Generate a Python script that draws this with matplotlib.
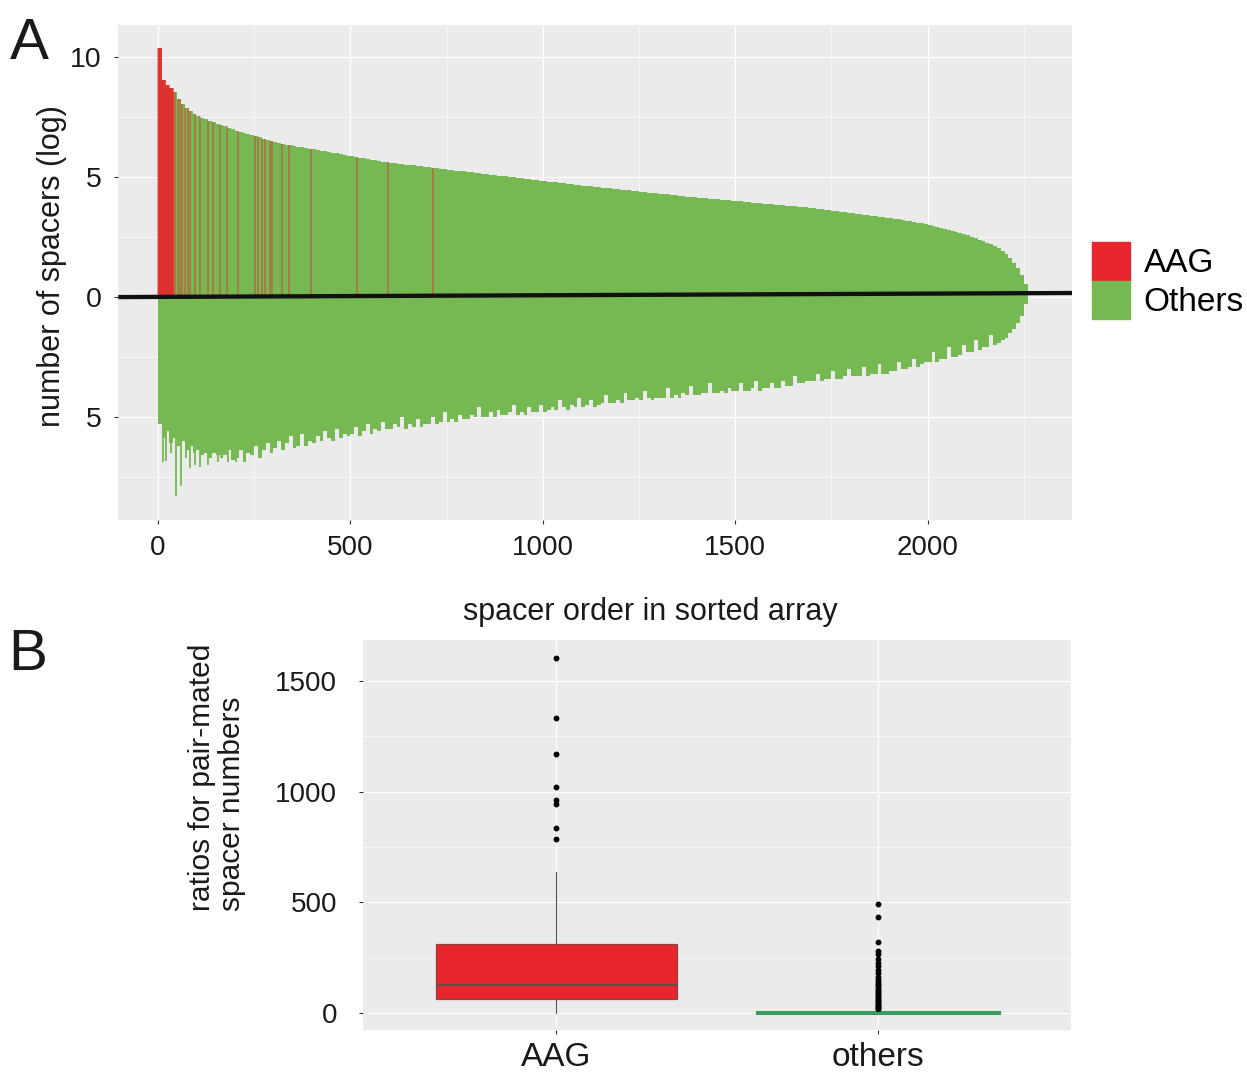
import matplotlib.pyplot as plt
from matplotlib.patches import Patch

plt.rcParams["font.family"] = ["Liberation Sans", "DejaVu Sans"]

# ---- panel A: log spacer numbers by rank, in bins of 10 ranks ----
BIN = 10
top_log = [
    10.4, 9.05, 8.85, 8.72, 8.55, 8.25, 8.05, 7.9, 7.75, 7.63,
    7.55, 7.48, 7.42, 7.36, 7.3, 7.24, 7.18, 7.12, 7.06, 7.0,
    6.93, 6.9, 6.86, 6.82, 6.77, 6.72, 6.67, 6.6, 6.55, 6.5,
    6.45, 6.42, 6.39, 6.36, 6.33, 6.3, 6.27, 6.24, 6.21, 6.19,
    6.17, 6.14, 6.11, 6.08, 6.05, 6.02, 5.99, 5.96, 5.93, 5.9,
    5.88, 5.85, 5.82, 5.79, 5.76, 5.73, 5.7, 5.68, 5.65, 5.63,
    5.61, 5.59, 5.57, 5.55, 5.53, 5.51, 5.49, 5.47, 5.45, 5.43,
    5.42, 5.4, 5.38, 5.36, 5.34, 5.32, 5.3, 5.28, 5.26, 5.24,
    5.22, 5.2, 5.18, 5.16, 5.14, 5.12, 5.1, 5.08, 5.06, 5.05,
    5.04, 5.02, 5.0, 4.98, 4.96, 4.94, 4.92, 4.9, 4.88, 4.86,
    4.84, 4.82, 4.8, 4.79, 4.77, 4.75, 4.73, 4.71, 4.69, 4.67,
    4.65, 4.64, 4.62, 4.6, 4.58, 4.57, 4.55, 4.53, 4.52, 4.5,
    4.48, 4.47, 4.45, 4.43, 4.42, 4.4, 4.38, 4.36, 4.35, 4.33,
    4.31, 4.3, 4.28, 4.26, 4.25, 4.23, 4.21, 4.19, 4.18, 4.16,
    4.15, 4.13, 4.12, 4.1, 4.09, 4.08, 4.06, 4.05, 4.03, 4.02,
    4.0, 3.99, 3.97, 3.96, 3.94, 3.93, 3.92, 3.9, 3.89, 3.87,
    3.86, 3.85, 3.83, 3.82, 3.8, 3.79, 3.77, 3.76, 3.74, 3.72,
    3.7, 3.68, 3.66, 3.64, 3.62, 3.6, 3.58, 3.56, 3.54, 3.52,
    3.5, 3.48, 3.46, 3.44, 3.42, 3.4, 3.38, 3.35, 3.33, 3.31,
    3.29, 3.27, 3.24, 3.22, 3.19, 3.16, 3.13, 3.1, 3.07, 3.03,
    3.0, 2.96, 2.92, 2.88, 2.84, 2.79, 2.75, 2.71, 2.67, 2.62,
    2.57, 2.52, 2.46, 2.4, 2.34, 2.27, 2.2, 2.12, 2.03, 1.93,
    1.8, 1.63, 1.43, 1.2, 0.92, 0.55,
]
# pair-mated spacers, plotted downwards
bottom_log = [
    5.3, 5.9, 5.6, 6.1, 5.9, 6.2, 6.0, 6.4, 6.2, 6.5,
    6.4, 6.6, 6.5, 6.7, 6.5, 6.6, 6.7, 6.6, 6.4, 6.8,
    6.7, 6.4, 6.9, 6.5, 6.6, 6.2, 6.7, 6.4, 6.1, 6.5,
    6.3, 6.0, 6.4, 6.1, 5.8, 6.3, 6.2, 5.7, 6.2, 6.0,
    6.1, 5.8, 6.0, 5.6, 5.9, 6.0, 5.5, 5.9, 5.7, 5.8,
    5.7, 5.4, 5.8, 5.6, 5.3, 5.7, 5.5, 5.6, 5.2, 5.5,
    5.5, 5.3, 5.4, 5.0, 5.5, 5.3, 5.4, 5.1, 5.4, 5.3,
    5.3, 5.0, 5.3, 5.2, 4.8, 5.2, 5.1, 5.2, 4.9, 5.1,
    5.1, 4.9, 5.0, 4.6, 5.0, 5.0, 4.8, 5.0, 4.7, 4.9,
    4.9, 4.8, 4.5, 4.9, 4.8, 4.9, 4.6, 4.8, 4.8, 4.5,
    4.8, 4.7, 4.6, 4.7, 4.3, 4.6, 4.7, 4.5, 4.6, 4.2,
    4.6, 4.5, 4.3, 4.6, 4.5, 4.4, 4.1, 4.4, 4.4, 4.3,
    4.4, 4.0, 4.3, 4.3, 4.2, 4.3, 3.9, 4.2, 4.3, 4.2,
    4.2, 4.2, 3.8, 4.2, 4.1, 4.2, 4.0, 4.1, 3.7, 4.1,
    4.1, 4.0, 4.0, 3.6, 4.0, 4.0, 3.9, 4.0, 3.8, 3.9,
    3.9, 3.6, 3.9, 3.9, 3.8, 3.5, 3.9, 3.8, 3.8, 3.6,
    3.8, 3.8, 3.5, 3.7, 3.7, 3.3, 3.6, 3.6, 3.5, 3.5,
    3.5, 3.2, 3.5, 3.4, 3.4, 3.1, 3.4, 3.4, 3.3, 3.0,
    3.3, 3.3, 3.3, 2.9, 3.3, 3.2, 3.2, 2.8, 3.2, 3.2,
    3.1, 3.1, 2.7, 3.0, 3.0, 2.9, 2.6, 2.9, 2.8, 2.7,
    2.7, 2.3, 2.7, 2.6, 2.6, 2.1, 2.5, 2.5, 2.4, 2.0,
    2.3, 2.3, 1.8, 2.2, 2.1, 2.1, 1.6, 2.0, 1.9, 1.8,
    1.7, 1.5, 1.35, 1.1, 0.8, 0.3,
]
# single long pair-mated bars near the head of the ranking
spike_ranks = [12, 20, 33, 48, 59, 72, 84, 95, 108, 130, 156, 182, 203]
spike_log = [6.9, 6.85, 6.5, 8.3, 7.9, 6.7, 7.15, 7.0, 7.1, 7.0, 6.9, 6.9, 6.9]
# ranks of AAG spacers
aag_ranks = list(range(1, 41)) + [
    45, 52, 57, 63, 70, 77, 83, 96, 109, 130, 143, 161, 179, 208,
    252, 260, 270, 278, 291, 296, 322, 340, 398, 517, 597, 714,
]
zero_line_x = [-103, 2375]
zero_line_y = [0.0, 0.17]

# ---- panel B: boxplot of pair-mated ratios ----
groups = ["AAG", "others"]
aag_box = dict(q1=64, med=127, q3=311, whislo=0, whishi=638)
aag_outliers = [786, 837, 942, 962, 1019, 1169, 1331, 1603]
others_box = dict(q1=1, med=3, q3=7, whislo=0, whishi=15)
others_outliers = [491, 433, 323, 282, 267, 243, 228, 213, 195, 180, 165,
                   150, 142, 134, 126, 118, 110, 103, 96, 89, 82, 75, 68,
                   61, 55, 49, 43, 38, 33, 28, 24, 20]

GREEN = "#76b852"
RED = "#e8262e"
PANEL = "#ebebeb"
TXT = "#1a1a1a"
W, H = 1247, 1077


def style_gg(ax):
    ax.set_facecolor(PANEL)
    for s in ax.spines.values():
        s.set_visible(False)
    ax.grid(which="major", color="white", lw=0.85)
    ax.grid(which="minor", color="white", lw=0.4)
    ax.set_axisbelow(True)
    ax.tick_params(which="major", color="#333333", width=0.8, length=3,
                   labelcolor=TXT)
    ax.tick_params(which="minor", length=0)


fig = plt.figure(figsize=(W / 100, H / 100), dpi=100)

ax = fig.add_axes([118.3 / W, 1 - 520 / H, (1072 - 118.3) / W, (520 - 25) / H])
style_gg(ax)
left = [i * BIN for i in range(len(top_log))]
ax.bar(left, top_log, width=BIN, align="edge", color=GREEN, lw=0)
ax.bar(left, [-v for v in bottom_log], width=BIN, align="edge", color=GREEN, lw=0)
ax.vlines(spike_ranks, 0, [-v for v in spike_log], colors=GREEN, lw=1.3)
ax.vlines(aag_ranks, 0, [top_log[r // BIN] for r in aag_ranks],
          colors=RED, lw=1.1, alpha=0.5)
ax.plot(zero_line_x, zero_line_y, color="#111111", lw=3.1, solid_capstyle="butt")
ax.set_xlim(-103, 2375)
ax.set_ylim(-9.3, 11.35)
ax.set_xticks([0, 500, 1000, 1500, 2000])
ax.set_xticks([250, 750, 1250, 1750, 2250], minor=True)
ax.set_yticks([-5, 0, 5, 10])
ax.set_yticklabels(["5", "0", "5", "10"])
ax.set_yticks([-7.5, -2.5, 2.5, 7.5], minor=True)
ax.tick_params(axis="x", labelsize=20, pad=8)
ax.tick_params(axis="y", labelsize=20.5, pad=9)

ax.legend(handles=[Patch(color=RED, label="AAG"), Patch(color=GREEN, label="Others")],
          loc="upper left", bbox_to_anchor=(1092 / W, 1 - 242 / H),
          bbox_transform=fig.transFigure, frameon=False, fontsize=24,
          handlelength=1.15, handleheight=1.4, labelspacing=0.0,
          handletextpad=0.4, borderpad=0, borderaxespad=0)

fig.text(52 / W, 1 - 266 / H, "number of spacers (log)", rotation=90,
         ha="center", va="center", fontsize=22, color=TXT)
fig.text(650 / W, 1 - 612 / H, "spacer order in sorted array",
         ha="center", va="center", fontsize=22, color=TXT)
fig.text(10 / W, 1 - 17 / H, "A", fontsize=42, va="top", ha="left", color=TXT)
fig.text(8 / W, 1 - 628 / H, "B", fontsize=42, va="top", ha="left", color=TXT)

# ---- panel B ----
bx = fig.add_axes([363.3 / W, 1 - 1030 / H, (1071 - 363.3) / W, (1030 - 640) / H])
style_gg(bx)
stats = [dict(aag_box, fliers=aag_outliers, label=groups[0]),
         dict(others_box, fliers=others_outliers, label=groups[1])]
res = bx.bxp(stats, positions=[1, 2], widths=0.75, patch_artist=True,
             showcaps=False,
             flierprops=dict(marker="o", markersize=3.2, markerfacecolor="black",
                             markeredgecolor="black"),
             whiskerprops=dict(color="#555555", lw=0.8),
             medianprops=dict(lw=1.6))
res["boxes"][0].set_facecolor(RED)
res["boxes"][0].set_edgecolor("#8a4040")
res["boxes"][0].set_linewidth(0.9)
res["medians"][0].set_color("#6b4a42")
res["boxes"][1].set_facecolor("#3a9c5c")
res["boxes"][1].set_edgecolor("#3a9c5c")
res["boxes"][1].set_linewidth(2.2)
res["medians"][1].set_color("#3a9c5c")
for w in res["whiskers"][2:]:
    w.set_color("#3a9c5c")
bx.set_xlim(0.4, 2.6)
bx.set_ylim(-75, 1683)
bx.set_yticks([0, 500, 1000, 1500])
bx.set_yticks([250, 750, 1250], minor=True)
bx.set_xticks([1, 2])
bx.set_xticklabels(groups)
bx.tick_params(axis="x", labelsize=24, pad=6)
bx.tick_params(axis="y", labelsize=20, pad=16)

fig.text(217 / W, 1 - 777 / H, "ratios for pair-mated\nspacer numbers",
         rotation=90, ha="center", va="center", multialignment="left",
         fontsize=21.5, color=TXT, linespacing=1.1)

fig.savefig("out.png", dpi=100, facecolor="white")
